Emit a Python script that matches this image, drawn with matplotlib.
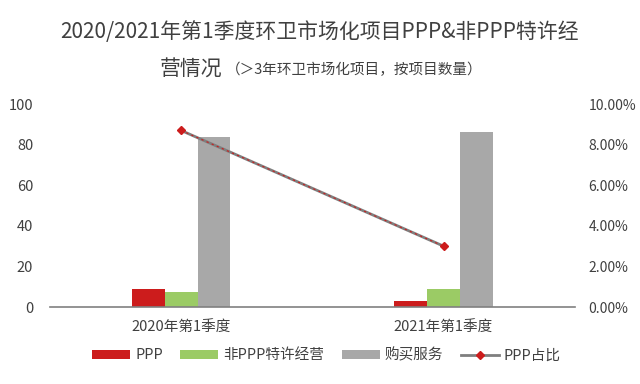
import numpy as np
import matplotlib.pyplot as plt

plt.rcParams['font.family'] = ['Noto Sans CJK SC', 'DejaVu Sans']

categories = ['2020年第1季度', '2021年第1季度']
ppp = [9, 3]
non_ppp = [7.6, 9]
purchase = [84, 86]
ppp_share = [8.7, 3.0]  # percent

fig = plt.figure(figsize=(6.4, 3.84), dpi=100)
ax = fig.add_axes([0.078, 0.2005, 0.82, 0.5285])

x = np.arange(len(categories))
w = 0.125
ax.bar(x - w, ppp, w, color='#CC1C1C', label='PPP')
ax.bar(x, non_ppp, w, color='#9BCB65', label='非PPP特许经营')
ax.bar(x + w, purchase, w, color='#A8A8A8', label='购买服务')

ax.set_xlim(-0.5, 1.5)
ax.set_ylim(0, 100)
ax.set_yticks(range(0, 101, 20))
ax.set_xticks(x)
ax.set_xticklabels(categories)
for s in ['top', 'right', 'left']:
    ax.spines[s].set_visible(False)
ax.spines['bottom'].set_color('#808080')
ax.spines['bottom'].set_linewidth(1.2)
ax.tick_params(axis='both', length=0, labelsize=10.5, colors='#404040')
ax.tick_params(axis='x', pad=10)
ax.tick_params(axis='y', pad=12)

ax2 = ax.twinx()
ax2.set_ylim(0, 10)
ax2.set_yticks(range(0, 11, 2))
ax2.set_yticklabels(['%.2f%%' % v for v in range(0, 11, 2)])
for s in ax2.spines.values():
    s.set_visible(False)
ax2.tick_params(axis='y', length=0, labelsize=10, colors='#404040', pad=10)
line, = ax2.plot(x, ppp_share, color='#7F7F7F', lw=2, marker='D', ms=4,
                 mfc='#CC1C1C', mec='#CC1C1C', label='PPP占比')
ax2.plot(x, ppp_share, color='#CC1C1C', lw=0.8, ls=(0, (2, 3)))

h1, l1 = ax.get_legend_handles_labels()
fig.legend(h1 + [line], l1 + ['PPP占比'], loc='center', bbox_to_anchor=(0.51, 0.075),
           ncol=4, frameon=False, fontsize=10.5, handlelength=2.6, handleheight=0.55,
           handletextpad=0.35, columnspacing=1.2, labelcolor='#404040')

fig.text(0.5, 1 - 32 / 384, '2020/2021年第1季度环卫市场化项目PPP&非PPP特许经',
         ha='center', va='center', fontsize=15, color='#404040', fontweight='medium')
fig.text(222 / 640, 1 - 70 / 384, '营情况', ha='right', va='center',
         fontsize=15, color='#404040', fontweight='medium')
fig.text(226 / 640, 1 - 70 / 384, '（＞3年环卫市场化项目，按项目数量）', ha='left',
         va='center', fontsize=10.5, color='#404040')

fig.savefig('out.png', dpi=100)
